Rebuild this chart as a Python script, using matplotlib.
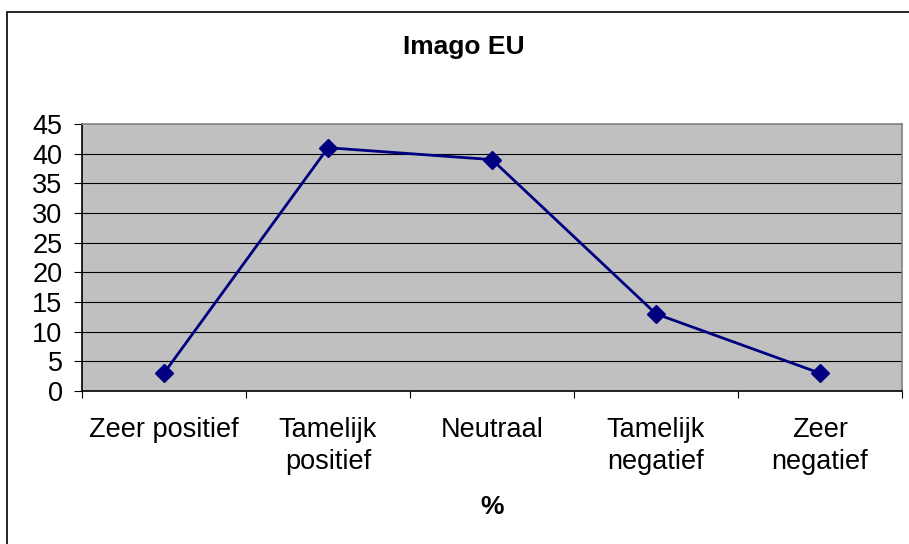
#!/usr/bin/env python3
# -*- coding: utf-8 -*-

import matplotlib
matplotlib.use("Agg")
import matplotlib.pyplot as plt
from matplotlib.patches import Rectangle
import numpy as np

# data
categories = ["Zeer positief", "Tamelijk\npositief", "Neutraal",
              "Tamelijk\nnegatief", "Zeer\nnegatief"]
values = [3, 41, 39, 13, 3]
y_ticks = [0, 5, 10, 15, 20, 25, 30, 35, 40, 45]

W, H = 909, 544

plt.rcParams["font.family"] = ["Liberation Sans", "DejaVu Sans"]

fig = plt.figure(figsize=(W / 100, H / 100), dpi=100)

# outer chart border (Excel style)
fig.patches.append(Rectangle((7 / W, -0.1), 1.2, (H - 12) / H + 0.1,
                             transform=fig.transFigure, fill=False,
                             edgecolor="black", linewidth=1.2))

ax = fig.add_axes([82 / W, 1 - 391 / H, (902 - 82) / W, (391 - 124) / H])
ax.set_facecolor("#C0C0C0")

x = np.arange(len(values)) + 0.5
ax.plot(x, values, color="#000080", linewidth=2.0, marker="D",
        markersize=9.5, markerfacecolor="#000080", markeredgecolor="#000080",
        zorder=3)

ax.set_xlim(0, len(values))
ax.set_ylim(0, 45)

ax.set_yticks(y_ticks)
ax.set_yticklabels([str(v) for v in y_ticks])
for v in y_ticks[1:-1]:
    ax.axhline(v, color="black", linewidth=0.8, zorder=1)

# category boundaries carry the ticks, centers carry the labels
ax.set_xticks(np.arange(len(values) + 1))
ax.set_xticklabels([])
ax.set_xticks(x, minor=True)
ax.set_xticklabels(categories, minor=True, fontsize=19.5, linespacing=1.3)
ax.tick_params(axis="x", which="minor", length=0, pad=19)
ax.tick_params(axis="x", which="major", direction="out", length=5,
               width=0.8, color="black")
ax.tick_params(axis="y", direction="out", length=6, width=0.8,
               labelsize=19.5, pad=8)

ax.spines["left"].set_color("black")
ax.spines["bottom"].set_color("black")
ax.spines["top"].set_color("#808080")
ax.spines["right"].set_color("#808080")
for s in ax.spines.values():
    s.set_linewidth(1.2)

fig.text(464 / W, 1 - 47 / H, "Imago EU", ha="center", va="center",
         fontsize=19, fontweight="bold")
fig.text(492 / W, 1 - 507 / H, "%", ha="center", va="center",
         fontsize=19, fontweight="bold")

fig.savefig("out.png", dpi=100)
